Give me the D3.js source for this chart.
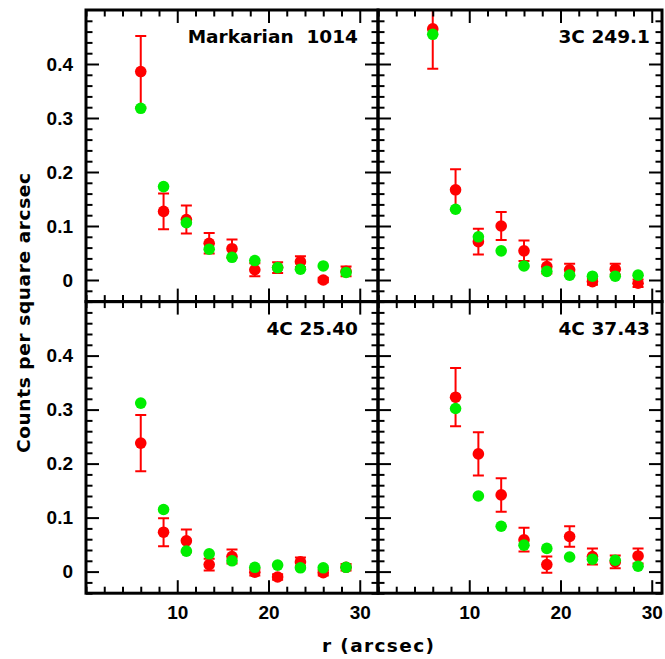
<!DOCTYPE html>
<html>
<head>
<meta charset="utf-8">
<script src="https://cdn.jsdelivr.net/npm/d3@7"></script>
<style>
  body { margin: 0; background: #fff; }
  svg { display: block; }
</style>
</head>
<body>
<svg id="chart" width="665" height="659"></svg>
<script>
// radial bins (arcsec)
var radii = [6, 8.5, 11, 13.5, 16, 18.5, 21, 23.5, 26, 28.5];

// Markarian 1014
var mrkObs   = [0.386, 0.127, 0.112, 0.068, 0.058, 0.019, 0.023, 0.034, 0.000, 0.016];
var mrkErr   = [0.066, 0.033, 0.026, 0.019, 0.017, 0.012, 0.010, 0.010, 0.004, 0.009];
var mrkModel = [0.318, 0.173, 0.106, 0.057, 0.042, 0.036, 0.023, 0.020, 0.026, 0.014];

// 3C 249.1
var c249Obs   = [0.465, 0.167, 0.071, 0.100, 0.054, 0.025, 0.019, -0.003, 0.020, -0.006];
var c249Err   = [0.074, 0.038, 0.024, 0.026, 0.019, 0.013, 0.011, 0.006, 0.010, 0.007];
var c249Model = [0.455, 0.131, 0.080, 0.054, 0.026, 0.016, 0.009, 0.007, 0.007, 0.009];

// 4C 25.40
var c2540Obs   = [0.238, 0.073, 0.057, 0.013, 0.028, -0.001, -0.010, 0.018, -0.002, 0.008];
var c2540Err   = [0.052, 0.026, 0.021, 0.011, 0.013, 0.006, 0.005, 0.008, 0.005, 0.006];
var c2540Model = [0.312, 0.115, 0.038, 0.033, 0.020, 0.008, 0.012, 0.007, 0.007, 0.008];

// 4C 37.43 (no point at 6")
var c3743Obs   = [null, 0.323, 0.218, 0.142, 0.059, 0.013, 0.065, 0.028, 0.018, 0.029];
var c3743Err   = [null, 0.054, 0.040, 0.031, 0.022, 0.015, 0.019, 0.015, 0.012, 0.014];
var c3743Model = [null, 0.302, 0.140, 0.084, 0.049, 0.043, 0.027, 0.023, 0.021, 0.010];

var panelNames = ["Markarian  1014", "3C 249.1", "4C 25.40", "4C 37.43"];
var xTickValues = [10, 20, 30];
var yTickValues = [0, 0.1, 0.2, 0.3, 0.4];
var xLimits = [0, 32];
var yLimits = [-0.04, 0.5];

var panels = [
    { name: panelNames[0], obs: mrkObs, err: mrkErr, model: mrkModel, col: 0, row: 0 },
    { name: panelNames[1], obs: c249Obs, err: c249Err, model: c249Model, col: 1, row: 0 },
    { name: panelNames[2], obs: c2540Obs, err: c2540Err, model: c2540Model, col: 0, row: 1 },
    { name: panelNames[3], obs: c3743Obs, err: c3743Err, model: c3743Model, col: 1, row: 1 }
];

var colX = [86, 378];
var colW = [292, 284];
var rowY = [10, 301.6];
var panelH = 291.6;

var svg = d3.select("#chart");
svg.append("rect").attr("width", 665).attr("height", 659).attr("fill", "#fff");

var x = d3.scaleLinear().domain(xLimits).range([0, 292]);
var y = d3.scaleLinear().domain(yLimits).range([panelH, 0]);

var labelFont = "'Liberation Sans', Arial, sans-serif";
var titleFont = "'DejaVu Sans', sans-serif";

var minorX = d3.range(0, 33, 2).filter(function(v) { return xTickValues.indexOf(v) < 0; });
var minorY = d3.range(-4, 51, 2).map(function(v) { return v / 100; })
    .filter(function(v) { return Math.round(v * 100) % 10 !== 0; });

var styleAxis = function(g) {
    g.select(".domain").remove();
    g.selectAll(".tick line").attr("stroke", "#000").attr("stroke-width", 2);
    g.selectAll(".tick text")
        .attr("fill", "#000")
        .style("font-family", labelFont)
        .style("font-weight", "bold")
        .style("font-size", "19px");
};

var drawTicks = function(g, p, w) {
    var inX = function(v) { return x(v) <= w; };
    var majX = xTickValues.filter(inX), minX = minorX.filter(inX);
    var showX = p.row === 1, showY = p.col === 0;

    [[majX, 13], [minX, 6.5]].forEach(function(s) {
        var bottom = d3.axisBottom(x).tickValues(s[0]).tickSize(-s[1]).tickPadding(12)
            .tickFormat(showX && s[1] === 13 ? d3.format("d") : "");
        g.append("g").attr("transform", "translate(0," + panelH + ")").call(bottom).call(styleAxis);
        var top = d3.axisTop(x).tickValues(s[0]).tickSize(-s[1]).tickFormat("");
        g.append("g").call(top).call(styleAxis);
    });

    [[yTickValues, 13], [minorY, 6.5]].forEach(function(s) {
        var left = d3.axisLeft(y).tickValues(s[0]).tickSize(-s[1]).tickPadding(13)
            .tickFormat(showY && s[1] === 13 ? function(d) { return d === 0 ? "0" : d3.format(".1f")(d); } : "");
        g.append("g").call(left).call(styleAxis);
        var right = d3.axisRight(y).tickValues(s[0]).tickSize(-s[1]).tickFormat("");
        g.append("g").attr("transform", "translate(" + w + ",0)").call(right).call(styleAxis);
    });
};

var drawPanel = function(p, i) {
    var w = colW[p.col];
    var g = svg.append("g")
        .attr("class", "panel")
        .attr("transform", "translate(" + colX[p.col] + "," + rowY[p.row] + ")");

    g.append("clipPath").attr("id", "clip" + i)
      .append("rect").attr("width", w).attr("height", panelH);

    var pts = radii.map(function(r, k) {
        return { r: r, obs: p.obs[k], err: p.err[k], model: p.model[k] };
    }).filter(function(d) { return d.obs !== null; });

    var marks = g.append("g").attr("clip-path", "url(#clip" + i + ")");

    var bars = marks.selectAll(".err")
        .data(pts)
      .enter()
        .append("g")
        .attr("class", "err")
        .attr("stroke", "#ff0000")
        .attr("stroke-width", 2);
    bars.append("line")
        .attr("x1", function(d) { return x(d.r); })
        .attr("x2", function(d) { return x(d.r); })
        .attr("y1", function(d) { return y(d.obs - d.err); })
        .attr("y2", function(d) { return y(d.obs + d.err); });
    [-1, 1].forEach(function(sgn) {
        bars.append("line")
            .attr("x1", function(d) { return x(d.r) - 5.5; })
            .attr("x2", function(d) { return x(d.r) + 5.5; })
            .attr("y1", function(d) { return y(d.obs + sgn * d.err); })
            .attr("y2", function(d) { return y(d.obs + sgn * d.err); });
    });

    marks.selectAll(".obs")
        .data(pts)
      .enter()
        .append("circle")
        .attr("class", "obs")
        .attr("cx", function(d) { return x(d.r); })
        .attr("cy", function(d) { return y(d.obs); })
        .attr("r", 5.8)
        .attr("fill", "#ff0000");

    marks.selectAll(".model")
        .data(pts)
      .enter()
        .append("circle")
        .attr("class", "model")
        .attr("cx", function(d) { return x(d.r); })
        .attr("cy", function(d) { return y(d.model); })
        .attr("r", 5.8)
        .attr("fill", "#00ee00");

    drawTicks(g, p, w);

    g.append("rect")
        .attr("width", w)
        .attr("height", panelH)
        .attr("fill", "none")
        .attr("stroke", "#000")
        .attr("stroke-width", 3);

    g.append("text")
        .attr("x", x(29.8))
        .attr("y", p.row === 0 ? 33 : 33.5)
        .attr("text-anchor", "end")
        .style("font-family", titleFont)
        .style("font-weight", "bold")
        .style("font-size", "18.5px")
        .style("white-space", "pre")
        .text(p.name);
};

panels.forEach(drawPanel);

svg.append("text")
    .attr("transform", "translate(30,313) rotate(-90)")
    .attr("text-anchor", "middle")
    .attr("textLength", 280)
    .attr("lengthAdjust", "spacing")
    .style("font-family", titleFont)
    .style("font-weight", "bold")
    .style("font-size", "18.5px")
    .text("Counts per square arcsec");

svg.append("text")
    .attr("x", 378)
    .attr("y", 652)
    .attr("text-anchor", "middle")
    .attr("textLength", 112)
    .attr("lengthAdjust", "spacing")
    .style("font-family", titleFont)
    .style("font-weight", "bold")
    .style("font-size", "18.5px")
    .text("r (arcsec)");
</script>
</body>
</html>
